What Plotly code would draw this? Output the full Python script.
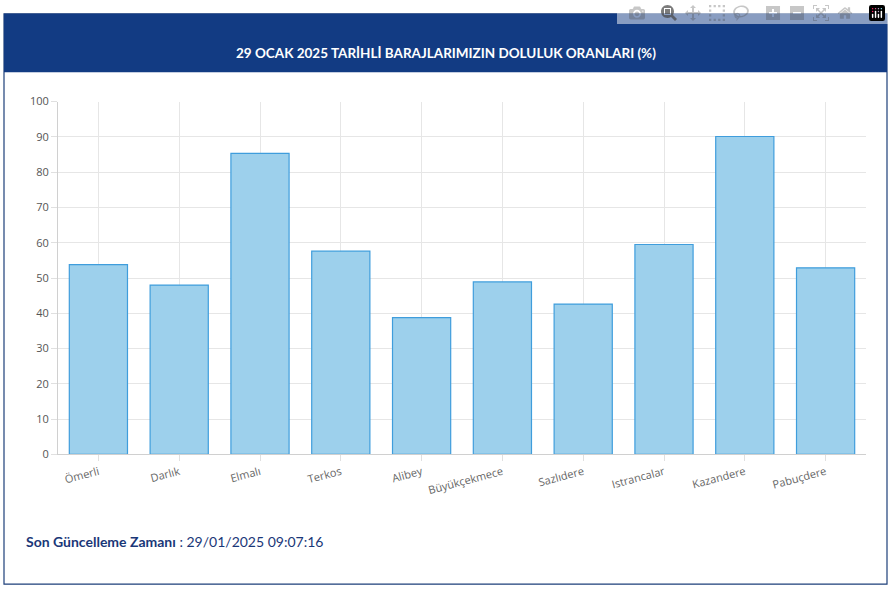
import plotly.graph_objects as go

dams = ["Ömerli", "Darlık", "Elmalı", "Terkos", "Alibey", "Büyükçekmece",
        "Sazlıdere", "Istrancalar", "Kazandere", "Pabuçdere"]
fill_pct = [53.8, 48.0, 85.3, 57.6, 38.8, 48.9, 42.6, 59.5, 90.1, 52.9]
y_ticks = list(range(0, 101, 10))

title_text = "29 OCAK 2025 TARİHLİ BARAJLARIMIZIN DOLULUK ORANLARI (%)"
footer_label = "Son Güncelleme Zamanı"
footer_time = "29/01/2025 09:07:16"

W, H = 891, 594
fig = go.Figure()

fig.add_trace(go.Bar(
    x=dams, y=fill_pct,
    marker=dict(color="#9dd0ec", line=dict(color="#3f9ddc", width=1.2)),
    hoverinfo="x+y",
))

# card border and header band
fig.add_shape(type="rect", xref="paper", yref="paper",
              x0=4/W, x1=887/W, y0=1-591/H, y1=1-6/H,
              line=dict(color="#1d3f7a", width=1.2), fillcolor="white", layer="below")
fig.add_shape(type="rect", xref="paper", yref="paper",
              x0=4/W, x1=887/W, y0=1-66/H, y1=1-6/H,
              line=dict(width=0), fillcolor="#123b83", layer="below")

fig.add_annotation(x=0.5, y=1-36/H, xref="paper", yref="paper",
                   text="<b>" + title_text + "</b>", showarrow=False,
                   font=dict(color="white", size=13.5, family="Lato"))
fig.add_annotation(x=24/W, y=1-558/H, xref="paper", yref="paper", xanchor="left",
                   text="<b>" + footer_label + "</b> : " + footer_time, showarrow=False,
                   font=dict(color="#1a3778", size=14, family="Lato"))

fig.update_layout(
    width=W, height=H,
    margin=dict(l=0, r=0, t=0, b=0),
    paper_bgcolor="white", plot_bgcolor="white",
    showlegend=False, bargap=0.28,
    xaxis=dict(domain=[58/W, 866/W], tickangle=-15,
               showgrid=True, gridcolor="#e6e6e6", showline=True, linecolor="#d0d0d0",
               tickfont=dict(color="#666", size=11, family="Open Sans"),
               ticks="outside", ticklen=6, tickcolor="#e0e0e0"),
    yaxis=dict(domain=[1-458/H, 1-96/H], range=[0, 100], tickvals=y_ticks,
               showgrid=True, gridcolor="#e6e6e6", zeroline=False,
               showline=True, linecolor="#d0d0d0",
               tickfont=dict(color="#555", size=11, family="Open Sans"),
               ticks="outside", ticklen=6, tickcolor="#e0e0e0"),
)

# drop the default page margin so the figure sits flush in the window
fig.write_html("out.html",
               post_script="document.body.style.margin='0';document.body.style.overflow='hidden';")
